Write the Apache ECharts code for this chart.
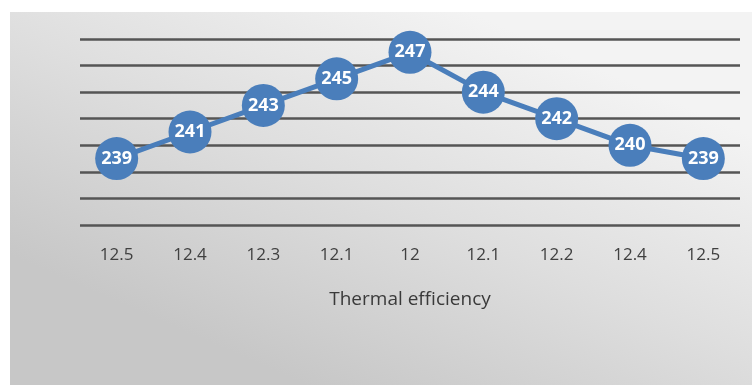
<!DOCTYPE html>
<html>
<head>
<meta charset="utf-8">
<style>
  html, body { margin: 0; padding: 0; background: #ffffff; }
  #chart { width: 752px; height: 385px; }
</style>
<script src="https://cdn.jsdelivr.net/npm/echarts@6/dist/echarts.min.js"></script>
</head>
<body>
<div id="chart"></div>
<script>
// Category labels along the x axis (thermal efficiency readings)
const categories = ['12.5', '12.4', '12.3', '12.1', '12', '12.1', '12.2', '12.4', '12.5'];
// Plotted values for each category
const values = [239, 241, 243, 245, 247, 244, 242, 240, 239];
// Value axis range and step
const yMin = 234;
const yMax = 248;
const yStep = 2;
const xAxisTitle = 'Thermal efficiency';

const chart = echarts.init(document.getElementById('chart'), null, { renderer: 'canvas' });

chart.setOption({
  animation: false,
  graphic: [{
    type: 'rect',
    z: -10,
    shape: { x: 10, y: 12, width: 742, height: 373 },
    style: {
      fill: new echarts.graphic.LinearGradient(0.62, 0, 0.4, 1, [
        { offset: 0, color: '#f3f3f3' },
        { offset: 0.5, color: '#dedede' },
        { offset: 1, color: '#c7c7c7' }
      ])
    }
  }],
  grid: { left: 80, right: 12, top: 39, bottom: 160 },
  xAxis: {
    type: 'category',
    data: categories,
    boundaryGap: true,
    name: xAxisTitle,
    nameLocation: 'middle',
    nameGap: 65,
    nameTextStyle: { color: '#3a3a3a', fontSize: 19, fontFamily: 'Open Sans' },
    axisLine: { show: false },
    axisTick: { show: false },
    axisLabel: { color: '#404040', fontSize: 17, fontFamily: 'Open Sans', margin: 22 }
  },
  yAxis: {
    type: 'value',
    min: yMin,
    max: yMax,
    interval: yStep,
    axisLabel: { show: false },
    axisLine: { show: false },
    axisTick: { show: false },
    splitLine: { lineStyle: { color: '#555555', width: 2.5 } }
  },
  series: [{
    type: 'line',
    data: values,
    symbol: 'circle',
    symbolSize: 43,
    lineStyle: { color: '#4a7ebb', width: 5 },
    itemStyle: { color: '#4a7ebb' },
    label: {
      show: true,
      position: 'inside',
      color: '#ffffff',
      fontSize: 18,
      fontWeight: 'bold',
      fontFamily: 'Open Sans'
    },
    z: 3
  }]
});
</script>
</body>
</html>
